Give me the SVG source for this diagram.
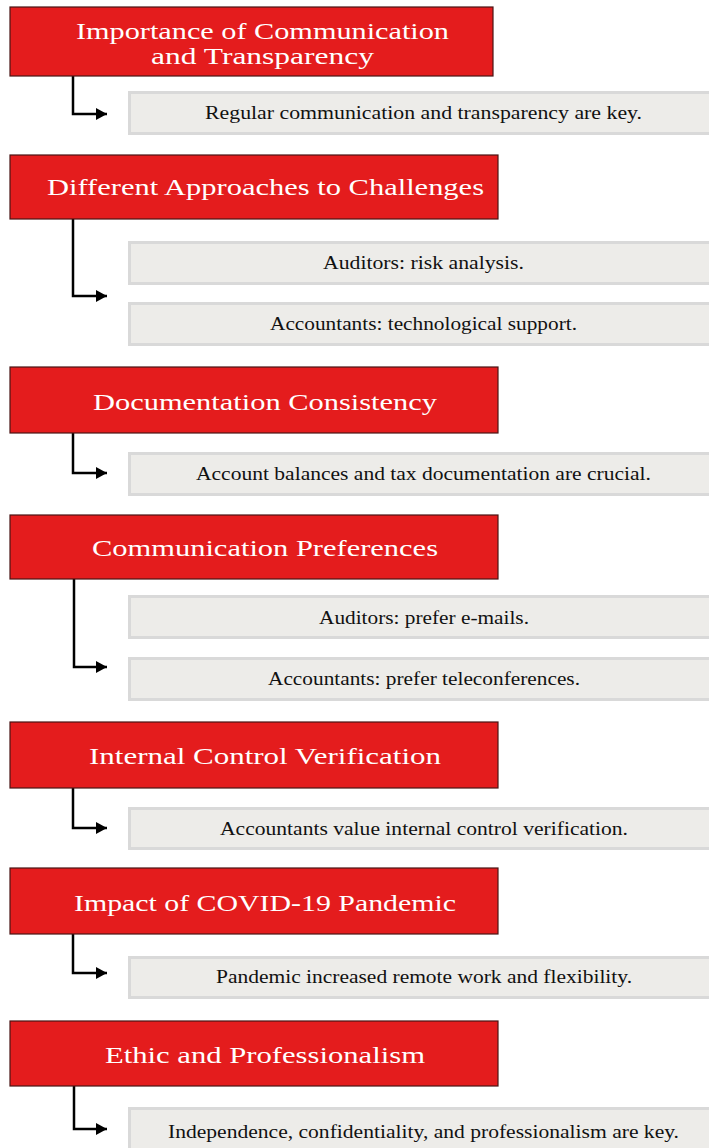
<svg xmlns="http://www.w3.org/2000/svg" width="709" height="1148" viewBox="0 0 709 1148">
<style>
.h{fill:#e41c1d;stroke:#4a1414;stroke-width:1.2}
.d{fill:#edece9;stroke:#d9d9d9;stroke-width:3}
.ht{font-family:"Liberation Serif",serif;font-size:24px;fill:#ffffff;text-anchor:middle}
.dt{font-family:"Liberation Serif",serif;font-size:18px;fill:#111111;text-anchor:middle}
.c{fill:none;stroke:#000;stroke-width:2.5}
</style>
<defs>
<marker id="ar" markerWidth="12" markerHeight="12" refX="11" refY="6" orient="auto" markerUnits="userSpaceOnUse">
<path d="M0,0 L11,6 L0,12 Z" fill="#000"/>
</marker>
</defs>
<g id="connectors">
<path class="c" d="M73,76 V114 H107" marker-end="url(#ar)"/>
<path class="c" d="M73,219 V296 H107" marker-end="url(#ar)"/>
<path class="c" d="M73,433 V473 H107" marker-end="url(#ar)"/>
<path class="c" d="M74,579 V667 H107" marker-end="url(#ar)"/>
<path class="c" d="M73,788 V828 H107" marker-end="url(#ar)"/>
<path class="c" d="M73,934 V973 H107" marker-end="url(#ar)"/>
<path class="c" d="M74,1086 V1129 H107" marker-end="url(#ar)"/>
</g>
<g id="h1"><rect class="h" x="10" y="7" width="483" height="69"/>
<text class="ht" x="262.5" y="39" font-size="23" textLength="373" lengthAdjust="spacingAndGlyphs">Importance of Communication</text>
<text class="ht" x="262.5" y="64" font-size="23" textLength="223" lengthAdjust="spacingAndGlyphs">and Transparency</text></g>
<g id="d1"><rect class="d" x="129.5" y="92.5" width="600" height="41"/>
<text class="dt" x="423.5" y="119" textLength="437" lengthAdjust="spacingAndGlyphs">Regular communication and transparency are key.</text></g>
<g id="h2"><rect class="h" x="10" y="155" width="488" height="64"/>
<text class="ht" x="265.5" y="195" textLength="437" lengthAdjust="spacingAndGlyphs">Different Approaches to Challenges</text></g>
<g id="d2a"><rect class="d" x="129.5" y="242.5" width="600" height="41"/>
<text class="dt" x="423.5" y="269" textLength="201" lengthAdjust="spacingAndGlyphs">Auditors: risk analysis.</text></g>
<g id="d2b"><rect class="d" x="129.5" y="303.5" width="600" height="41"/>
<text class="dt" x="423.5" y="330" textLength="307" lengthAdjust="spacingAndGlyphs">Accountants: technological support.</text></g>
<g id="h3"><rect class="h" x="10" y="367" width="488" height="66"/>
<text class="ht" x="265" y="410" textLength="344" lengthAdjust="spacingAndGlyphs">Documentation Consistency</text></g>
<g id="d3"><rect class="d" x="129.5" y="453.5" width="600" height="41"/>
<text class="dt" x="423.5" y="480" textLength="455" lengthAdjust="spacingAndGlyphs">Account balances and tax documentation are crucial.</text></g>
<g id="h4"><rect class="h" x="10" y="515" width="488" height="64"/>
<text class="ht" x="265" y="556" textLength="346" lengthAdjust="spacingAndGlyphs">Communication Preferences</text></g>
<g id="d4a"><rect class="d" x="129.5" y="596.5" width="600" height="41"/>
<text class="dt" x="424" y="624" textLength="210" lengthAdjust="spacingAndGlyphs">Auditors: prefer e-mails.</text></g>
<g id="d4b"><rect class="d" x="129.5" y="658.5" width="600" height="41"/>
<text class="dt" x="424" y="685" textLength="312" lengthAdjust="spacingAndGlyphs">Accountants: prefer teleconferences.</text></g>
<g id="h5"><rect class="h" x="10" y="722" width="488" height="66"/>
<text class="ht" x="265" y="764" textLength="352" lengthAdjust="spacingAndGlyphs">Internal Control Verification</text></g>
<g id="d5"><rect class="d" x="129.5" y="808.5" width="600" height="40"/>
<text class="dt" x="424" y="835" textLength="408" lengthAdjust="spacingAndGlyphs">Accountants value internal control verification.</text></g>
<g id="h6"><rect class="h" x="10" y="868" width="488" height="66"/>
<text class="ht" x="265" y="911" textLength="382" lengthAdjust="spacingAndGlyphs">Impact of COVID-19 Pandemic</text></g>
<g id="d6"><rect class="d" x="129.5" y="957.5" width="600" height="40"/>
<text class="dt" x="424" y="983" textLength="416" lengthAdjust="spacingAndGlyphs">Pandemic increased remote work and flexibility.</text></g>
<g id="h7"><rect class="h" x="10" y="1021" width="488" height="65"/>
<text class="ht" x="265" y="1063" textLength="320" lengthAdjust="spacingAndGlyphs">Ethic and Professionalism</text></g>
<g id="d7"><rect class="d" x="129.5" y="1108.5" width="600" height="42"/>
<text class="dt" x="423.5" y="1138" textLength="511" lengthAdjust="spacingAndGlyphs">Independence, confidentiality, and professionalism are key.</text></g>
</svg>
